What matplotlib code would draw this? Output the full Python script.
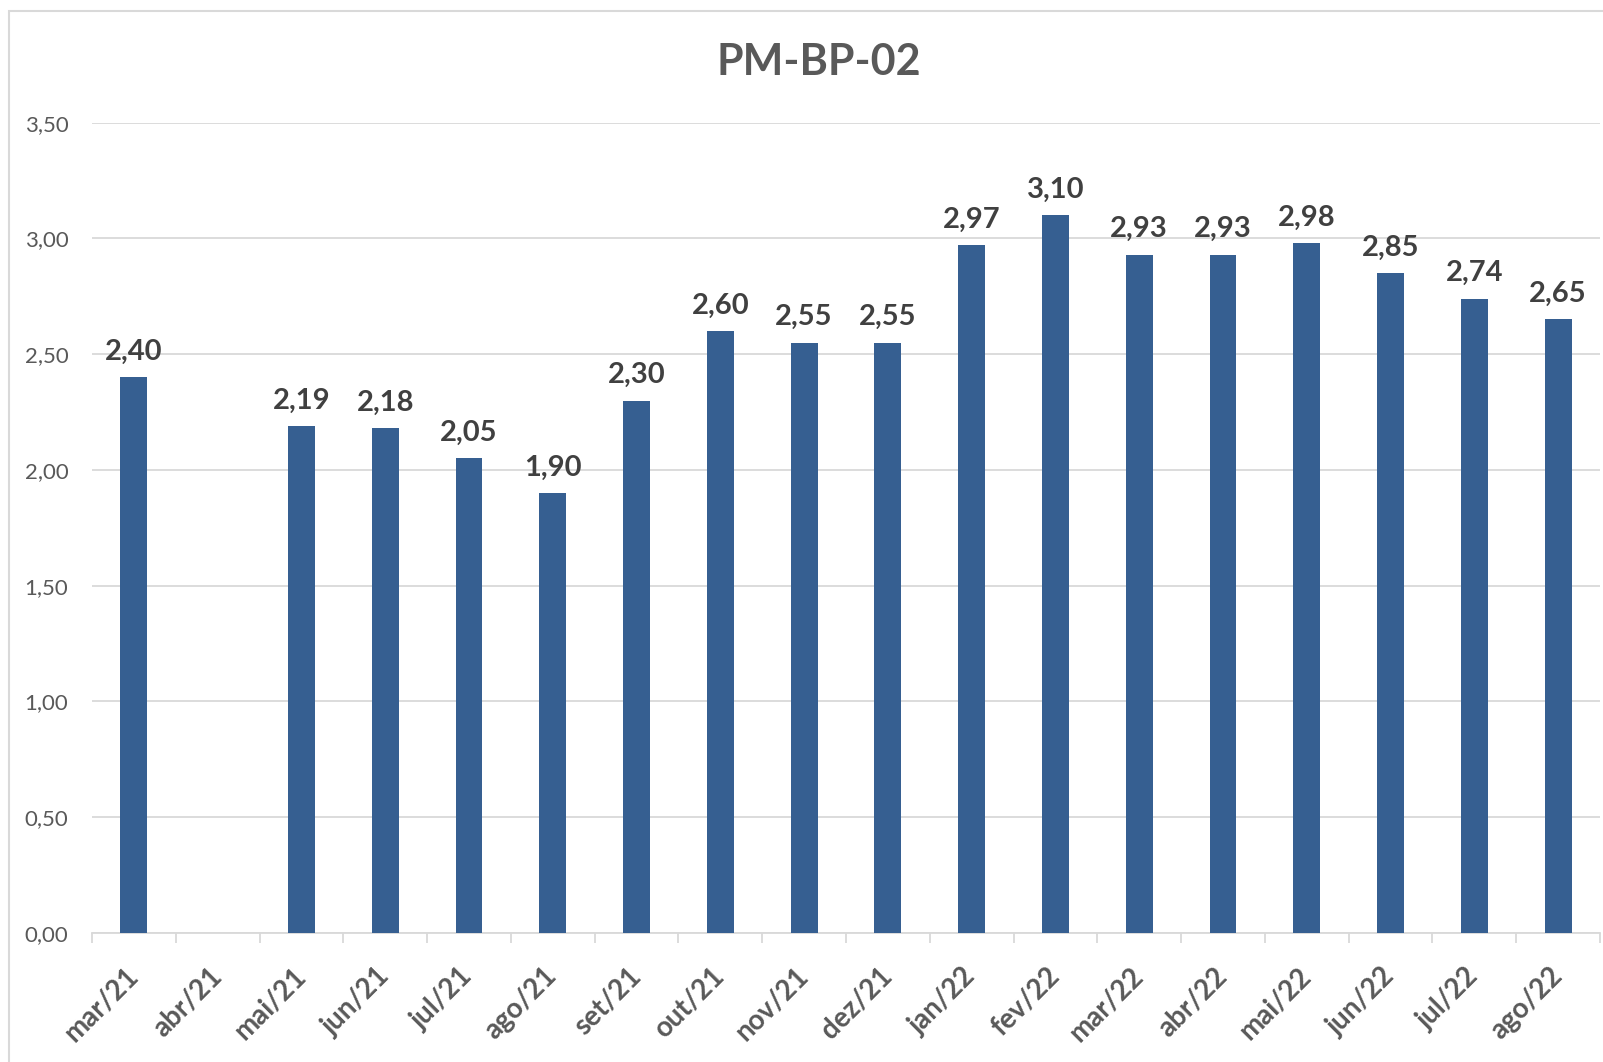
import numpy as np
import matplotlib
matplotlib.use("Agg")
import matplotlib.pyplot as plt
from matplotlib.patches import Rectangle

plt.rcParams['font.family'] = ['Lato', 'DejaVu Sans']

# Monthly values for PM-BP-02 (abr/21 has no reading)
months = ["mar/21", "abr/21", "mai/21", "jun/21", "jul/21", "ago/21", "set/21",
          "out/21", "nov/21", "dez/21", "jan/22", "fev/22", "mar/22", "abr/22",
          "mai/22", "jun/22", "jul/22", "ago/22"]
values = [2.40, np.nan, 2.19, 2.18, 2.05, 1.90, 2.30, 2.60, 2.55, 2.55,
          2.97, 3.10, 2.93, 2.93, 2.98, 2.85, 2.74, 2.65]
y_ticks = [0.0, 0.5, 1.0, 1.5, 2.0, 2.5, 3.0, 3.5]

bar_color = "#365F91"
grid_color = "#D9D9D9"
text_color = "#595959"
label_color = "#404040"

fig = plt.figure(figsize=(16.03, 10.62), dpi=100)
fig.patches.append(Rectangle((9 / 1603, -0.1), 1.2, 1 - 11 / 1062 + 0.1,
                             transform=fig.transFigure, fill=False,
                             edgecolor=grid_color, linewidth=1.5))
ax = fig.add_axes([92 / 1603, 1 - 933 / 1062, (1600 - 92) / 1603, (933 - 122.7) / 1062])

x = np.arange(len(months))
ax.bar(x, values, width=0.32, color=bar_color, zorder=3)

for xi, v in zip(x, values):
    if np.isnan(v):
        continue
    ax.annotate(f"{v:.2f}".replace(".", ","), (xi, v), xytext=(0, 9),
                textcoords="offset points", ha="center", va="bottom",
                fontsize=21, fontweight="bold", color=label_color,
                annotation_clip=False)

ax.set_xlim(-0.5, len(months) - 0.5)
ax.set_ylim(0, 3.5)
ax.set_yticks(y_ticks)
ax.set_yticklabels([f"{t:.2f}".replace(".", ",") for t in y_ticks])
ax.yaxis.grid(True, color=grid_color, linewidth=1.3, zorder=0)
ax.tick_params(axis="y", length=0, pad=17, labelsize=16, labelcolor=text_color)

ax.set_xticks(x)
ax.set_xticklabels(months, rotation=45, ha="right", va="center",
                   rotation_mode="anchor", fontsize=20, fontweight="bold",
                   color=text_color)
ax.set_xticks(np.arange(len(months) + 1) - 0.5, minor=True)
ax.tick_params(axis="x", which="major", length=0, pad=28)
ax.tick_params(axis="x", which="minor", length=7, width=1.3, color=grid_color)

for side in ["top", "right", "left"]:
    ax.spines[side].set_visible(False)
ax.spines["bottom"].set_color(grid_color)
ax.spines["bottom"].set_linewidth(1.3)
ax.set_axisbelow(True)

fig.text(0.511, 1 - 62 / 1062, "PM-BP-02", ha="center", va="center",
         fontsize=31, fontweight="bold", color=text_color)

fig.savefig("out.png", dpi=100)
